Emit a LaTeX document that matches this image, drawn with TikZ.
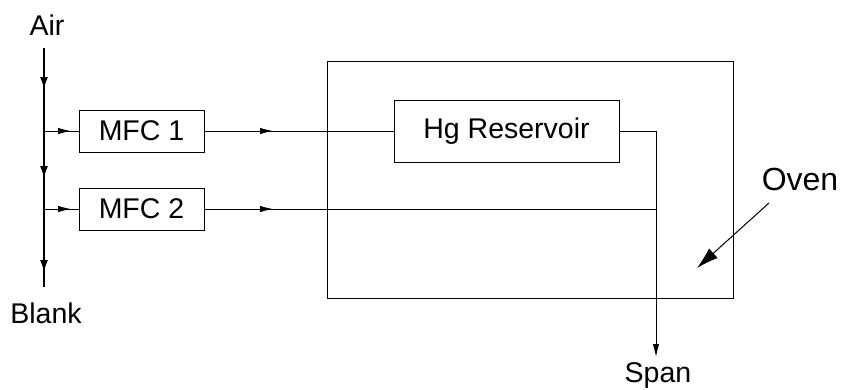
\documentclass[tikz,border=0pt]{standalone}
\usepackage{fontspec}
\setmainfont{Liberation Sans}
\usetikzlibrary{arrows.meta,calc}
\begin{document}
\begin{tikzpicture}[x=1pt,y=-1pt,
  box/.style={draw, line width=1pt, inner sep=0pt, outer sep=0pt, font=\fontsize{28.5}{33}\selectfont},
  lbl/.style={anchor=base, inner sep=0pt, font=\fontsize{28.5}{33}\selectfont},
  wire/.style={line width=1pt},
  mainwire/.style={line width=1.5pt},
  maintip/.style={-{Latex[length=12pt,width=8pt]}},
  tip/.style={-{Latex[length=13pt,width=6.5pt]}},
  bigtip/.style={-{Latex[length=22pt,width=13pt]}}]
\useasboundingbox (0,0) rectangle (843,389);
% boxes
\node[box, minimum width=406pt, minimum height=237pt] (oven) at (530,179.5) {};
\node[box, minimum width=125pt, minimum height=42pt] (mfc1) at (141.5,131) {MFC 1};
\node[box, minimum width=125pt, minimum height=42pt] (mfc2) at (141.5,209) {MFC 2};
\node[box, fill=white, minimum width=225pt, minimum height=62pt] (hg) at (506.5,131) {Hg Reservoir};
% labels
\node[lbl] (air) at (47,35) {Air};
\node[lbl] (blank) at (46,323) {Blank};
\node[lbl] (span) at (658,382) {Span};
\node[lbl, font=\fontsize{32}{37}\selectfont] (ovenlbl) at (800,190) {Oven};
% main supply line
\coordinate (top) at (44,48);
\coordinate (a1) at (44,89);
\coordinate (a2) at (44,178);
\coordinate (a3) at (44,272);
\coordinate (bot) at (44,287);
\draw[mainwire] (top) -- (bot);
\foreach \p in {a1,a2,a3} \draw[mainwire, maintip] ($(\p)+(0,-3)$) -- (\p);
% branches to MFCs
\coordinate (j1) at (44,131);
\coordinate (j2) at (44,209);
\coordinate (b1) at (71,131);
\coordinate (b2) at (71,209);
\draw[wire] (j1) -- (mfc1.west);
\draw[wire] (j2) -- (mfc2.west);
\foreach \p in {b1,b2} \draw[wire, tip] ($(\p)+(-3,0)$) -- (\p);
% MFC outputs
\coordinate (o1) at (273,131);
\coordinate (o2) at (273,209);
\coordinate (c1) at (656,131);
\coordinate (c2) at (656,209);
\coordinate (spanend) at (656,357);
\draw[wire] (mfc1.east) -- (hg.west);
\draw[wire] (mfc2.east) -- (c2);
\foreach \p in {o1,o2} \draw[wire, tip] ($(\p)+(-3,0)$) -- (\p);
\draw[wire, tip] (hg.east) -- (c1) -- (spanend);
% oven pointer
\coordinate (ps) at (769,203);
\coordinate (pe) at (697,268);
\draw[wire, bigtip] (ps) -- (pe);
\end{tikzpicture}
\end{document}
